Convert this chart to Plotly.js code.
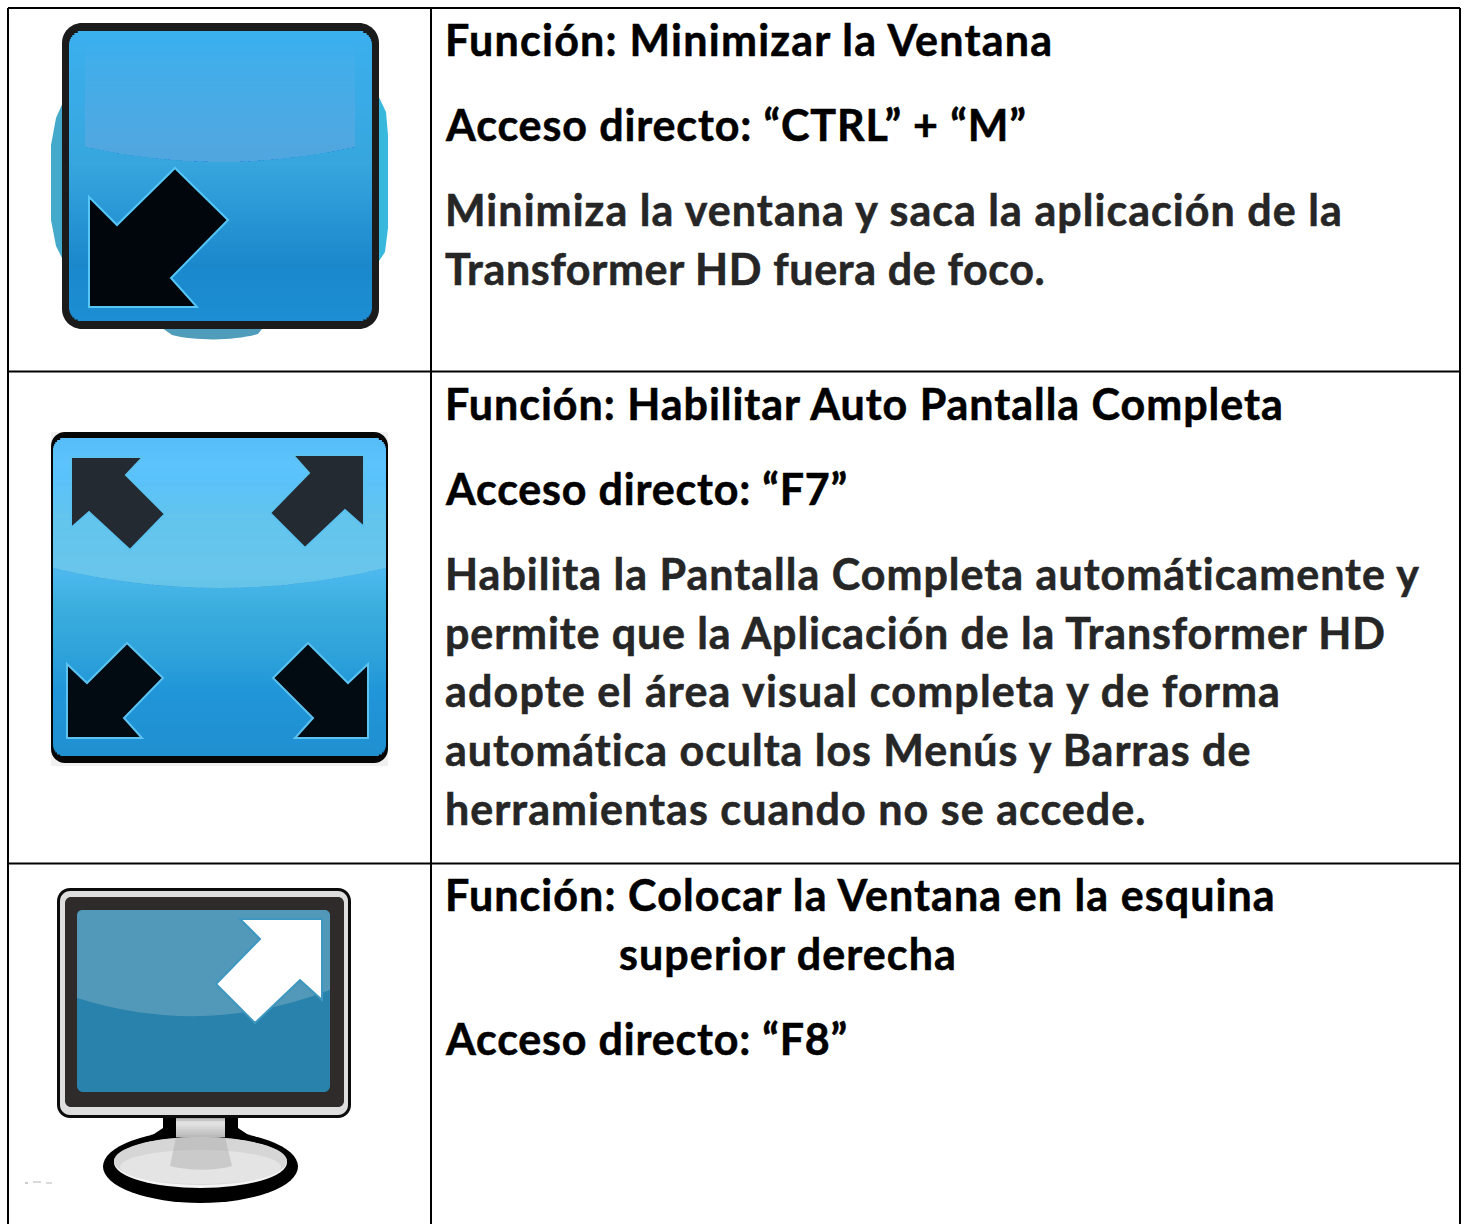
<!DOCTYPE html>
<html><head><meta charset="utf-8">
<script src="https://cdn.plot.ly/plotly-3.0.1.min.js"></script>
<style>html,body{margin:0;padding:0;background:#fff}#c{width:1465px;height:1224px}
.annotation-text{stroke-width:0.55px;paint-order:stroke}</style>
</head><body><div id="c"></div>
<script>
// ---------- content ----------
const headingLines = [
  "Función: Minimizar la Ventana","Acceso directo: “CTRL” + “M”",
  "Función: Habilitar Auto Pantalla Completa","Acceso directo: “F7”",
  "Función: Colocar la Ventana en la esquina","superior derecha","Acceso directo: “F8”"];
const bodyLines = [
  "Minimiza la ventana y saca la aplicación de la","Transformer HD fuera de foco.",
  "Habilita la Pantalla Completa automáticamente y","permite que la Aplicación de la Transformer HD",
  "adopte el área visual completa y de forma","automática oculta los Menús y Barras de","herramientas cuando no se accede."];

// ---------- layout of the page (pixels) ----------
const headingX = [444,444,444,444,444,618,444];
const headingY = [39,124,403,488,894,953,1038];
const bodyX = [444,444,444,444,444,444,444];
const bodyY = [209,268,573,632,690,749,808];
const headingTrack = [1.23,.88,.97,.8,1.07,1.1,.8];
const bodyTrack = [1.04,.64,1.0,.88,1.15,.95,1.04];
const FONT = "Lato, Carlito, sans-serif", FS = 43;

const shapes = [];
const poly = (pts)=>"M"+pts.map(p=>p.join(",")).join("L")+"Z";
function rr(x0,y0,x1,y1,r){
  if(!r) return `M${x0},${y0}L${x1},${y0}L${x1},${y1}L${x0},${y1}Z`;
  const k=r*0.45;
  return `M${x0+r},${y0}L${x1-r},${y0}C${x1-k},${y0} ${x1},${y0+k} ${x1},${y0+r}L${x1},${y1-r}C${x1},${y1-k} ${x1-k},${y1} ${x1-r},${y1}L${x0+r},${y1}C${x0+k},${y1} ${x0},${y1-k} ${x0},${y1-r}L${x0},${y0+r}C${x0},${y0+k} ${x0+k},${y0} ${x0+r},${y0}Z`;
}
function add(path,fill,lineColor,lineW){
  shapes.push({type:"path",xref:"x",yref:"y",layer:"below",path,fillcolor:fill,
    line:{color:lineColor||"rgba(0,0,0,0)",width:lineW||0}});
}
function rect(x0,y0,x1,y1,fill){ add(`M${x0},${y0}L${x1},${y0}L${x1},${y1}L${x0},${y1}Z`,fill); }
function ell(x0,y0,x1,y1,fill){
  shapes.push({type:"circle",xref:"x",yref:"y",layer:"below",x0,y0,x1,y1,fillcolor:fill,line:{width:0}});
}
function mix(a,b,t){const h=c=>[1,3,5].map(i=>parseInt(c.substr(i,2),16));const A=h(a),B=h(b);
  return "rgb("+A.map((v,i)=>Math.round(v+(B[i]-v)*t)).join(",")+")";}
function ramp(x0,y0,x1,y1,r,stops){
  const step=2;
  for(let y=y0;y<y1;y+=step){
    const f=(y-y0)/(y1-y0);let i=0;while(i<stops.length-2&&f>stops[i+1][0])i++;
    const t=Math.min(1,Math.max(0,(f-stops[i][0])/(stops[i+1][0]-stops[i][0])));
    const mid=y+step/2;
    const d=Math.max(0,Math.max(r-(mid-y0),r-(y1-mid)));
    const ins=d>0?r-Math.sqrt(Math.max(0,r*r-d*d)):0;
    rect(x0+ins,y,x1-ins,Math.min(y1,y+step+0.5),mix(stops[i][1],stops[i+1][1],t));
  }
}
function gloss(x0,yTop,x1,yEdge,yMid,fill){
  add(`M${x0},${yTop}L${x1},${yTop}L${x1},${yEdge}Q${(x0+x1)/2},${2*yMid-yEdge} ${x0},${yEdge}Z`,fill);
}
function glossStack(x0,x1,yA,yB,yEdge,yMid,n,col,a){
  for(let i=0;i<n;i++) gloss(x0,yA+(yB-yA)*i/(n-1),x1,yEdge,yMid,`rgba(${col},${a})`);
}

// ---------- icon 1 ----------
add(poly([[64,100],[56,118],[51,145],[51,220],[56,246],[64,262]]),"#45a9cc");
add(poly([[377,93],[386,112],[388,135],[388,228],[385,252],[377,264]]),"#38b8dc");
add("M158,325L265,325L258,334C235,341 195,341 172,335Z","#4f9dbb");
add(rr(62,23,379,329,20),"#1b1b1b");
ramp(69,31,372,321,14,[[0,"#3bb0ee"],[.45,"#37a6de"],[.8,"#1b88cc"],[1,"#1d8ed4"]]);
glossStack(85,355,45,142,147,162,20,"165,205,225",.016);
add(poly([[89,197],[117,225],[175,168],[228,220],[171,278],[197,307],[89,307]]),"#01050c","#55c6f5",2);

// ---------- icon 2 ----------
add(rr(51,432,388,766,0),"#f0f0f0");
add(rr(51,432,388,763,14),"#060606");
ramp(53,438,386,756,12,[[0,"#55bdf8"],[.08,"#5cc3fc"],[.42,"#4cb8ee"],[.52,"#3cafde"],[.68,"#2ea2da"],[.8,"#2095d8"],[1,"#2090d0"]]);
glossStack(53,386,480,565,568,588,16,"135,212,232",.05);
const darkArrow="#232a31", blackArrow="#020a12", edge="#5cc2f0";
add(poly([[71,457],[143,457],[126,475],[165,514],[130,550],[89,512],[71,528]]),darkArrow,edge,2);
add(poly([[293,455],[364,455],[364,527],[345,510],[305,548],[270,513],[309,473]]),darkArrow,edge,2);
add(poly([[67,664],[87,683],[127,643],[163,678],[124,718],[142,738],[67,738]]),blackArrow,edge,2);
add(poly([[368,664],[348,683],[308,643],[273,678],[313,718],[295,738],[368,738]]),blackArrow,edge,2);

// ---------- icon 3 ----------
add(poly([[163,1112],[163,1128],[148,1138],[253,1138],[238,1128],[238,1112]]),"#000");
ell(103,1130,298,1203,"#000");
ell(114,1137,287,1188,"#f4f4f4");
ell(114,1137,287,1185,"#d6d6d6");
ell(120,1150,281,1184,"#e4e4e4");
add("M176,1137L225,1137L232,1166C215,1171 190,1171 170,1166Z","rgba(170,170,170,.45)");
ramp(176,1115,225,1137,0,[[0,"#8f8f8f"],[.3,"#e6e6e6"],[1,"#b5b5b5"]]);
add(rr(57,888,351,1118,13),"#0c0c0c");
add(rr(60,891,348,1115,10),"#dedede");
add(rr(65,897,344,1107,6),"#2e2b2a");
add(rr(77,910,330,1092,6),"#2882ab");
add(`M77,916C77,912 79,910 83,910L324,910C328,910 330,912 330,916L330,990Q204,1038 77,998Z`,"#5298b8");
add(poly([[240,919],[322,919],[322,1000],[300,980],[255,1023],[216,984],[260,939]]),"#ffffff","#3d97c0",2);
add("M25,1183L28,1183","rgba(0,0,0,0)","#9a9a9a",1);
add("M33,1182L41,1182","rgba(0,0,0,0)","#b5b5b5",1);
add("M46,1183L52,1183","rgba(0,0,0,0)","#b5b5b5",1);

// ---------- table rules ----------
const rule=(x0,y0,x1,y1)=>shapes.push({type:"line",xref:"x",yref:"y",layer:"above",x0,y0,x1,y1,line:{color:"#000",width:2}});
rule(8,8,1460,8); rule(8,371.5,1460,371.5); rule(8,863.5,1460,863.5);
rule(8,8,8,1224); rule(431,8,431,1224); rule(1460,8,1460,1224);

const note=(text,x,y,color)=>({text,x,y,xref:"x",yref:"y",xanchor:"left",yanchor:"middle",align:"left",
  showarrow:false,borderpad:0,font:{family:FONT,size:FS,color,weight:700}});
const annotations=[
  ...headingLines.map((t,i)=>note(t,headingX[i],headingY[i],"#000000")),
  ...bodyLines.map((t,i)=>note(t,bodyX[i],bodyY[i],"#262626"))];
const track=[...headingTrack,...bodyTrack];

Plotly.newPlot("c",[],{
  width:1465,height:1224,margin:{l:0,r:0,t:0,b:0},
  paper_bgcolor:"#fff",plot_bgcolor:"#fff",showlegend:false,
  xaxis:{range:[0,1465],visible:false,fixedrange:true},
  yaxis:{range:[1224,0],visible:false,fixedrange:true},
  shapes,annotations
},{displayModeBar:false,staticPlot:true}).then(()=>{
  document.querySelectorAll(".annotation-text").forEach((t,i)=>{
    t.style.stroke=t.style.fill; t.style.letterSpacing=track[i]+"px";
  });
});
</script></body></html>
